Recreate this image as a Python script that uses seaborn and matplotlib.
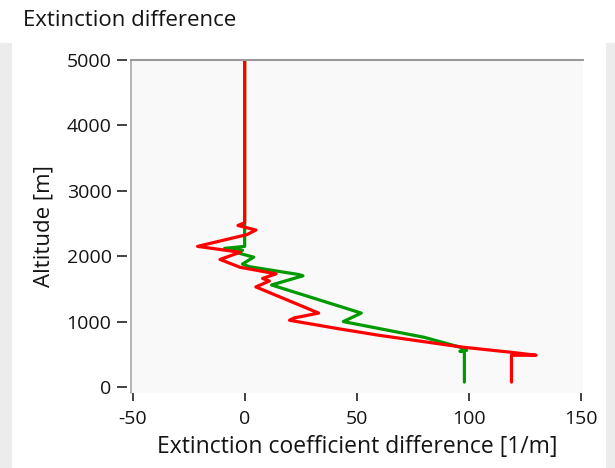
import matplotlib
matplotlib.use("Agg")
import matplotlib.pyplot as plt
import seaborn as sns
import pandas as pd
from matplotlib.patches import Rectangle

# ---- data ----
red_alt = [5000, 2510, 2470, 2400, 2330, 2150, 2060, 1950, 1830, 1730, 1660, 1620, 1530,
           1130, 1055, 1020, 890, 790, 610, 530, 485, 485, 75]
red_val = [0, 0, -3, 5, 1, -21, -2, -11, -2, 14, 8, 11, 5,
           33, 22, 20, 42, 60, 97, 119, 130, 119, 119]
green_alt = [5000, 2150, 2120, 2090, 2050, 1985, 1880, 1840, 1720, 1700, 1560,
             1130, 1000, 760, 600, 560, 545, 560, 75]
green_val = [0, 0, -9, -1, -3, 4, -1, 2, 24, 26, 12,
             52, 44, 80, 97, 99, 96, 98, 98]
x_ticks = [-50, 0, 50, 100, 150]
y_ticks = [0, 1000, 2000, 3000, 4000, 5000]
title = "Extinction difference"
xlabel = "Extinction coefficient difference [1/m]"
ylabel = "Altitude [m]"

sns.set_style("white")
plt.rcParams['font.family'] = ['Open Sans', 'DejaVu Sans']
plt.rcParams['axes.unicode_minus'] = False
txt = '#141414'
plt.rcParams['text.color'] = txt
plt.rcParams['axes.labelcolor'] = txt
plt.rcParams['xtick.labelcolor'] = txt
plt.rcParams['ytick.labelcolor'] = txt

W, H = 615, 468
fig = plt.figure(figsize=(W / 100, H / 100), dpi=100, facecolor='white')

# panel side strips
fig.patches.append(Rectangle((0, 0), 12 / W, 1 - 43 / H, transform=fig.transFigure,
                             facecolor='#ececec', edgecolor='none', zorder=0))
fig.patches.append(Rectangle((1 - 9 / W, 0), 9 / W, 1 - 43 / H, transform=fig.transFigure,
                             facecolor='#ececec', edgecolor='none', zorder=0))

L, R, T, B = 131, 583, 60, 393
ax = fig.add_axes([L / W, 1 - B / H, (R - L) / W, (B - T) / H])
ax.set_facecolor('#f9f9f9')

green_df = pd.DataFrame({'val': green_val, 'alt': green_alt})
red_df = pd.DataFrame({'val': red_val, 'alt': red_alt})
sns.lineplot(data=green_df, x='val', y='alt', sort=False, estimator=None,
             color='#009a00', linewidth=2.3, ax=ax)
sns.lineplot(data=red_df, x='val', y='alt', sort=False, estimator=None,
             color='#ff0000', linewidth=2.3, ax=ax)

ax.set_xlim(-50.7, 150.9)
ax.set_ylim(-92, 5000)
ax.set_xticks(x_ticks)
ax.set_yticks(y_ticks)
ax.set_xticklabels([str(v) for v in x_ticks])
ax.set_yticklabels([str(v) for v in y_ticks])

for s in ['right', 'bottom', 'left']:
    ax.spines[s].set_visible(False)
ax.spines['top'].set_color('#9a9a9a')
ax.spines['top'].set_linewidth(1.5)
ax.spines['left'].set_position(('outward', 3))
ax.plot([0, 0], [0, 1], transform=ax.transAxes, color='#a8a8a8', lw=1.2, clip_on=False)

ax.tick_params(axis='x', direction='out', length=5.5, width=1.2, color='#222222',
               labelsize=14, pad=7, bottom=True)
ax.tick_params(axis='y', direction='out', length=7, width=1.2, color='#222222',
               labelsize=14, pad=4, left=True)

ax.set_xlabel(xlabel, fontsize=16.5, labelpad=5)
ax.set_ylabel(ylabel, fontsize=16, labelpad=9)

fig.text(23 / W, 1 - 20 / H, title, fontsize=16, va='center', ha='left')

fig.savefig('out.png', dpi=100, facecolor=fig.get_facecolor())
